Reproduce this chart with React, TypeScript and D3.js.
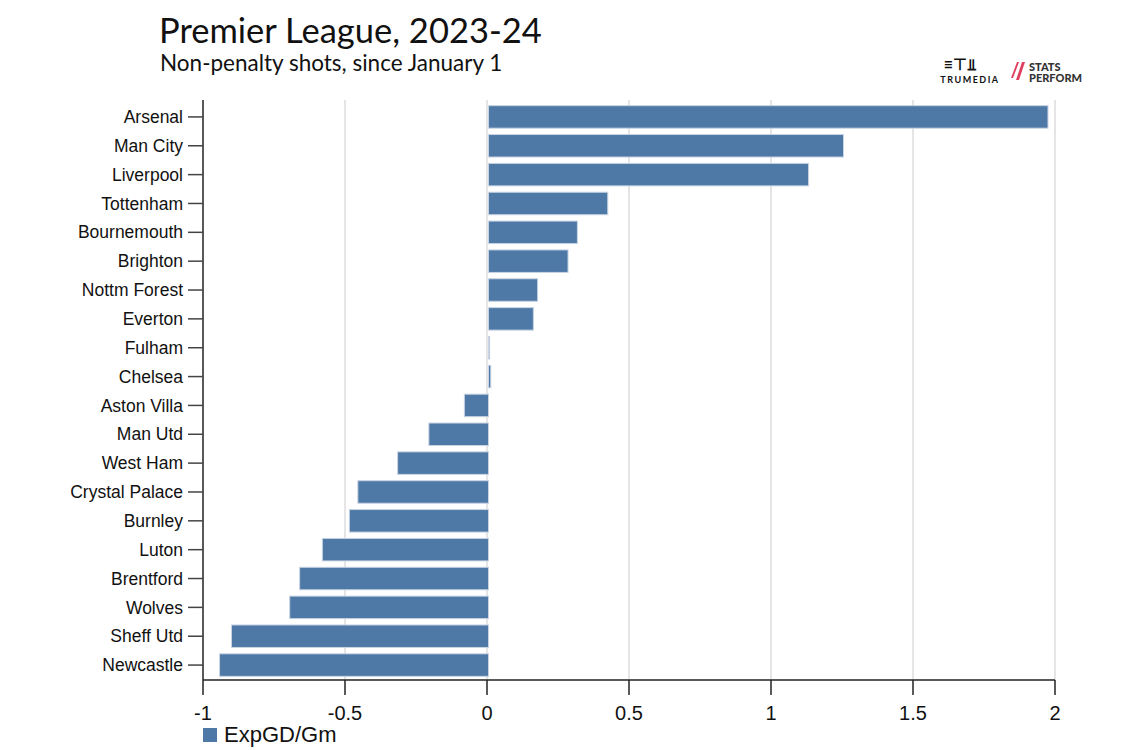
import React from "react";
import * as d3 from "d3";

const teams = ["Arsenal","Man City","Liverpool","Tottenham","Bournemouth","Brighton","Nottm Forest","Everton","Fulham","Chelsea","Aston Villa","Man Utd","West Ham","Crystal Palace","Burnley","Luton","Brentford","Wolves","Sheff Utd","Newcastle"];
const values = [1.97,1.25,1.127,0.42,0.313,0.28,0.173,0.158,0.004,0.008,-0.085,-0.21,-0.32,-0.46,-0.49,-0.585,-0.665,-0.70,-0.905,-0.947];
const xTicks = [-1,-0.5,0,0.5,1,1.5,2];

export default function App() {
  const W = 1125, H = 750;
  const x = d3.scaleLinear().domain([-1, 2]).range([203, 1055]);
  const y = d3.scaleBand().domain(teams).range([102.5, 679.5]).paddingInner(0.22).paddingOuter(0.11);
  const font = "Lato, 'Open Sans', sans-serif";
  const sans = "'Liberation Sans', Arial, sans-serif";
  return (
    <svg width={W} height={H} style={{ position: "absolute", left: 0, top: 0 }} fontFamily={font}>
      <rect width={W} height={H} fill="#fff" />
      <text x={159} y={43} fontSize={34.5} fill="#111">Premier League, 2023-24</text>
      <text x={160} y={71} fontSize={22.5} fill="#111">Non-penalty shots, since January 1</text>
      <g>
        <text x={970} y={83} fontSize={9} fontWeight={700} letterSpacing={1.5} textAnchor="middle" fill="#111">TRUMEDIA</text>
        <text x={960} y={70} fontSize={16} fontWeight={700} textAnchor="middle" fill="#111">≡⊤⫫</text>
        <path d="M1011,78 L1017,62 L1019,62 L1013,78Z M1016,80 L1022,62 L1025,62 L1019,80Z" fill="#e04060" />
        <text x={1029} y={71} fontSize={11} fontWeight={900} fill="#333">STATS</text>
        <text x={1029} y={82} fontSize={11} fontWeight={900} fill="#333">PERFORM</text>
      </g>
      {xTicks.filter(t => t !== -1).map(t => (
        <line key={t} x1={x(t)} x2={x(t)} y1={100} y2={680} stroke="#ddd" strokeWidth={1.5} />
      ))}
      {teams.map((t, i) => {
        const v = values[i];
        const x0 = x(Math.min(0, v)) + 1.5, x1 = x(Math.max(0, v)) + 1.5;
        return (
          <rect key={t} x={x0} y={y(t)!} width={Math.max(1, x1 - x0)} height={y.bandwidth()}
            fill="#4e79a7" stroke="#c8d4e3" strokeWidth={1} />
        );
      })}
      <line x1={203} x2={203} y1={100} y2={680} stroke="#222" strokeWidth={1.5} />
      {teams.map(t => {
        const cy = y(t)! + y.bandwidth() / 2;
        return (
          <g key={t}>
            <line x1={188} x2={203} y1={cy} y2={cy} stroke="#444" strokeWidth={1.5} />
            <text x={183} y={cy} dy="0.35em" textAnchor="end" fontSize={17.5} fill="#111" fontFamily={sans}>{t}</text>
          </g>
        );
      })}
      <line x1={203} x2={1055} y1={680} y2={680} stroke="#222" strokeWidth={1.5} />
      {xTicks.map(t => (
        <g key={t}>
          <line x1={x(t)} x2={x(t)} y1={680} y2={695} stroke="#222" strokeWidth={1.5} />
          <text x={x(t)} y={720} textAnchor="middle" fontSize={20} fill="#111" fontFamily={sans}>{t}</text>
        </g>
      ))}
      <rect x={203} y={728} width={14} height={14} fill="#4e79a7" />
      <text x={224} y={742} fontSize={22} fill="#111" fontFamily={sans}>ExpGD/Gm</text>
    </svg>
  );
}
